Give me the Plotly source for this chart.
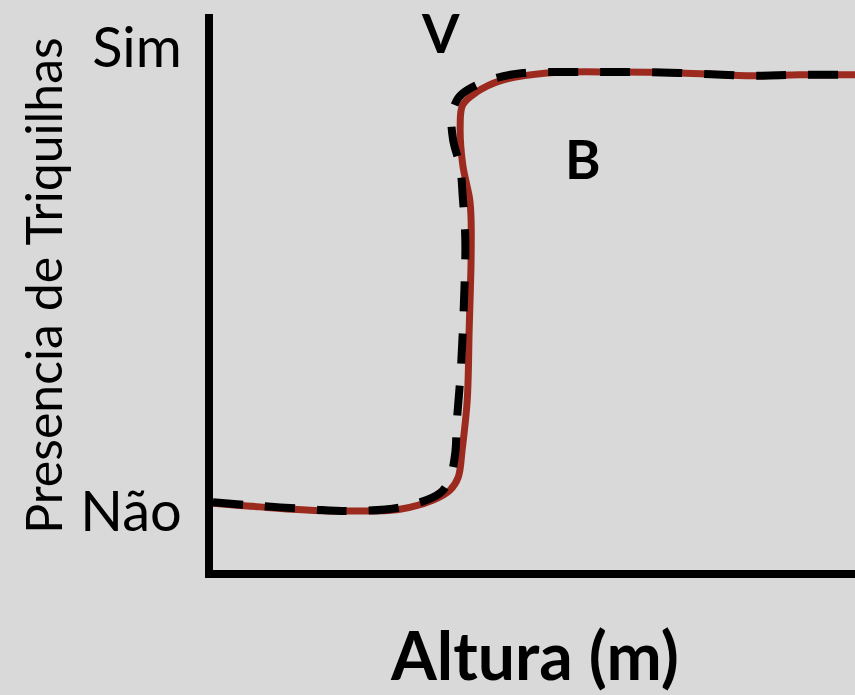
import plotly.graph_objects as go

# altura (0-100, arbitrary units) and presence level (0 = Não, 1 = Sim)
altura_b = [0, 7.3, 15.1, 21.3, 29.1, 34.3, 36.9, 38.2, 38.8, 39.6, 39.9, 40.2,
            40.2, 40.0, 38.9, 38.5, 38.9, 41.1, 44.7, 52.0, 63.4, 72.7, 83.6, 91.4, 100]
presenca_b = [0.017, 0.009, 0.002, 0.000, 0.004, 0.024, 0.045, 0.073, 0.131, 0.239, 0.390, 0.541,
              0.627, 0.670, 0.746, 0.828, 0.875, 0.903, 0.927, 0.944, 0.946, 0.944, 0.938, 0.940, 0.940]

altura_v = [0, 7.3, 15.1, 21.3, 29.6, 35.4, 36.9, 37.7, 38.0, 38.6, 39.1, 39.3, 38.9,
            38.5, 37.4, 37.2, 38.2, 39.6, 43.6, 48.3, 55.6, 63.4, 72.7, 83.6, 91.4, 100]
presenca_v = [0.019, 0.011, 0.004, 0.000, 0.009, 0.039, 0.071, 0.121, 0.196, 0.304, 0.455, 0.584, 0.677,
              0.741, 0.800, 0.853, 0.890, 0.907, 0.931, 0.944, 0.946, 0.946, 0.944, 0.938, 0.940, 0.940]

tick_vals = [0, 1]
tick_text = ['Não', 'Sim']

bg = '#d9d9d9'
font = 'Lato'

fig = go.Figure()

fig.add_trace(
    go.Scatter(
        x=altura_b,
        y=presenca_b,
        mode='lines',
        name='B',
        line=dict(color='#9c2a1e', width=7, shape='spline', smoothing=1),
    )
)

fig.add_trace(
    go.Scatter(
        x=altura_v,
        y=presenca_v,
        mode='lines',
        name='V',
        line=dict(color='black', width=8, shape='spline', smoothing=1, dash='30px,22px'),
    )
)

fig.update_layout(
    width=855,
    height=695,
    margin=dict(l=213, r=0, t=14, b=125, autoexpand=False),
    paper_bgcolor=bg,
    plot_bgcolor=bg,
    showlegend=False,
    font=dict(family=font, color='black'),
)

fig.update_xaxes(
    range=[0, 100],
    showgrid=False,
    zeroline=False,
    showticklabels=False,
    showline=True,
    linewidth=8,
    linecolor='black',
)

fig.update_yaxes(
    range=[-0.127, 1.071],
    showgrid=False,
    zeroline=False,
    showline=True,
    linewidth=8,
    linecolor='black',
    tickvals=tick_vals,
    ticktext=tick_text,
    ticks='outside',
    ticklen=12,
    tickcolor='rgba(0,0,0,0)',
    tickfont=dict(size=56, family=font),
)

fig.add_annotation(x=35.4, y=1.032, text='<b>V</b>', showarrow=False,
                   font=dict(size=54, family=font))
fig.add_annotation(x=57.6, y=0.759, text='<b>B</b>', showarrow=False,
                   font=dict(size=54, family=font))

fig.add_annotation(x=0.5, y=-0.152, xref='paper', yref='paper', text='<b>Altura (m)</b>',
                   showarrow=False, font=dict(size=66, family=font),
                   xanchor='center', yanchor='middle')
fig.add_annotation(x=-0.265, y=0.5126, xref='paper', yref='paper', text='Presencia de Triquilhas',
                   showarrow=False, textangle=-90, font=dict(size=50, family=font),
                   xanchor='center', yanchor='middle')

fig.write_html('out.html', config={'displayModeBar': False},
               post_script="document.body.style.margin='0';")
